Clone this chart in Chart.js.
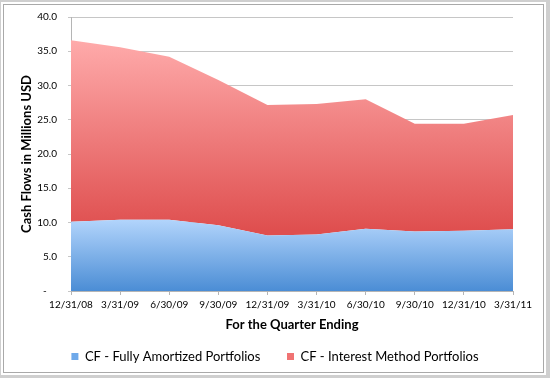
<!DOCTYPE html>
<html>
<head>
<meta charset="utf-8">
<script src="https://cdn.jsdelivr.net/npm/chart.js@4/dist/chart.umd.min.js"></script>
<style>
html,body{margin:0;padding:0;background:#fff;}
#wrap{width:550px;height:378px;position:relative;}
</style>
</head>
<body>
<div id="wrap"><canvas id="c" width="550" height="378"></canvas></div>
<script>
const categories = ['12/31/08','3/31/09','6/30/09','9/30/09','12/31/09','3/31/10','6/30/10','9/30/10','12/31/10','3/31/11'];
const fullyAmortized = [10.1, 10.4, 10.4, 9.6, 8.1, 8.25, 9.1, 8.7, 8.8, 9.0];
const interestMethod = [26.5, 25.2, 23.8, 21.2, 19.05, 19.05, 18.9, 15.7, 15.6, 16.7];
const seriesNames = ['CF - Fully Amortized Portfolios', 'CF - Interest Method Portfolios'];
const yTickValues = [0, 5, 10, 15, 20, 25, 30, 35, 40];

const FONT = 'Lato, "Liberation Sans", sans-serif';

function grad(ctx, v1, v2, c1, c2) {
  const chart = ctx.chart;
  const y = chart.scales && chart.scales.y;
  if (!chart.chartArea || !y) return c2;
  const g = chart.ctx.createLinearGradient(0, y.getPixelForValue(v1), 0, y.getPixelForValue(v2));
  g.addColorStop(0, c1);
  g.addColorStop(1, c2);
  return g;
}

const framePlugin = {
  id: 'frame',
  beforeDraw(chart) {
    const c = chart.ctx;
    c.save();
    c.fillStyle = '#cfcfcf';
    c.fillRect(0, 0, 550, 378);
    c.fillStyle = '#ffffff';
    c.fillRect(1, 2, 545, 373);
    c.strokeStyle = '#a9a9a9';
    c.lineWidth = 1;
    c.strokeRect(3.5, 4.5, 540, 368);
    c.restore();
  }
};

new Chart(document.getElementById('c'), {
  type: 'line',
  data: {
    labels: categories,
    datasets: [
      {
        label: seriesNames[0],
        data: fullyAmortized,
        fill: 'origin',
        borderWidth: 0,
        pointRadius: 0,
        tension: 0,
        backgroundColor: ctx => grad(ctx, 10.5, 0, '#b3d5fc', '#4b8dd5')
      },
      {
        label: seriesNames[1],
        data: interestMethod,
        fill: '-1',
        borderWidth: 0,
        pointRadius: 0,
        tension: 0,
        backgroundColor: ctx => grad(ctx, 37, 9, '#ffacac', '#df4f4f')
      }
    ]
  },
  options: {
    responsive: false,
    animation: false,
    devicePixelRatio: 1,
    layout: { padding: { left: 0, right: 0, top: 16, bottom: 5 } },
    plugins: {
      tooltip: { enabled: false },
      legend: {
        position: 'bottom',
        labels: {
          font: { family: FONT, size: 13 },
          color: '#000',
          boxWidth: 7,
          boxHeight: 7,
          padding: 10,
          generateLabels: () => [
            { text: seriesNames[0] + '     ', fillStyle: '#6ea9ea', strokeStyle: '#6ea9ea', lineWidth: 0, datasetIndex: 0 },
            { text: seriesNames[1], fillStyle: '#f07373', strokeStyle: '#f07373', lineWidth: 0, datasetIndex: 1 }
          ]
        }
      }
    },
    scales: {
      x: {
        type: 'category',
        offset: false,
        grid: { display: true, drawOnChartArea: false, drawTicks: true, tickLength: 4, color: '#b5b5b5' },
        border: { display: true, color: '#b5b5b5' },
        ticks: { font: { family: FONT, size: 10 }, color: '#000', padding: 4, maxRotation: 0, autoSkip: false },
        title: { display: true, text: 'For the Quarter Ending', font: { family: FONT, size: 13, weight: 'bold' }, color: '#000', padding: { top: 0, bottom: 7 } },
        afterFit: s => { s.height = 49; }
      },
      y: {
        stacked: true,
        min: 0,
        max: 40,
        afterBuildTicks: s => { s.ticks = yTickValues.map(v => ({ value: v })); },
        grid: { color: '#c6c6c6', tickLength: 3, drawTicks: true },
        border: { display: true, color: '#b5b5b5' },
        ticks: {
          font: { family: FONT, size: 10 },
          color: '#000',
          padding: 11,
          callback: v => v === 0 ? '-    ' : v.toFixed(1)
        },
        title: { display: true, text: 'Cash Flows in Millions USD', font: { family: FONT, size: 13, weight: 'bold' }, color: '#000', padding: { top: 19, bottom: 0 } },
        afterFit: s => { s.width = 71; }
      },
      spacer: {
        type: 'linear',
        position: 'right',
        display: true,
        grid: { display: false, drawTicks: false },
        border: { display: false },
        ticks: { display: false },
        afterFit: s => { s.width = 37; }
      }
    }
  },
  plugins: [framePlugin]
});
</script>
</body>
</html>
